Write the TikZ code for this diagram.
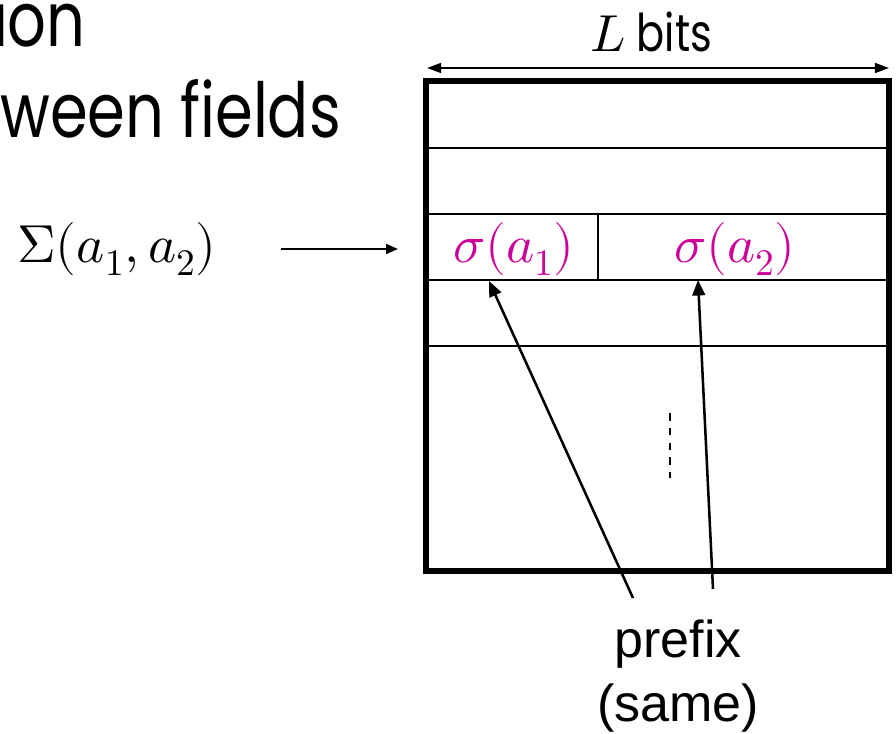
\documentclass[tikz,border=0pt]{standalone}
\usepackage{unicode-math}
\setmainfont{Poppins}[FakeStretch=0.8]
\setmathfont{Latin Modern Math}
\newfontfamily\labelfont{Liberation Sans}
\usetikzlibrary{arrows.meta}

\definecolor{fieldpink}{RGB}{204,0,153}

\tikzset{
  frame/.style={line width=4.8pt},
  rowline/.style={line width=1.4pt},
  pointer/.style={-{Triangle[length=11pt,width=9pt]}, line width=1.8pt},
  bitspan/.style={{Triangle[length=10pt,width=7pt]}-{Triangle[length=10pt,width=7pt]}, line width=1.4pt},
  field/.style={text=fieldpink, font=\fontsize{38}{44}\selectfont},
}

\begin{document}
\begin{tikzpicture}[x=0.025cm,y=-0.025cm]
\useasboundingbox (0,0) rectangle (896,734);

% heading text, cut off at the left edge
\node[anchor=base east, inner sep=0, font=\fontsize{54}{60}\selectfont] (head1) at (86,47) {ion};
\node[anchor=base west, inner sep=0, font=\fontsize{54}{60}\selectfont] (head2) at (0,138) {ween fields};

% the record
\coordinate (nw) at (426,81);
\coordinate (se) at (889,571);
\draw[frame] (nw) rectangle (se);
\foreach \y in {148,214,280,346}
  \draw[rowline] (425,\y) -- (890,\y);
\draw[rowline] (598,214) -- (598,280);
\draw[line width=1.4pt, dash pattern=on 5.5pt off 5pt] (670,413) -- (670,478);

% width
\coordinate (wl) at (427,68);
\coordinate (wr) at (889,68);
\draw[bitspan] (wl) -- (wr);
\node[font=\fontsize{37}{42}\selectfont] (width) at (651,32) {$L$ bits};

% fields
\node[field] (f1) at (514,249) {$\sigma(a_1)$};
\node[field] (f2) at (735,249) {$\sigma(a_2)$};

% the pair
\node[font=\fontsize{38}{44}\selectfont] (pair) at (117,249) {$\Sigma(a_1,a_2)$};
\coordinate (in) at (398,249);
\draw[pointer, line width=1.5pt, -{Triangle[length=8.5pt,width=7pt]}] ([xshift=42]pair.east) -- (in);

% prefix
\node[align=center, font=\labelfont\fontsize{37}{46}\selectfont] (prefix) at (678,676) {prefix\\(same)};
\coordinate (t1) at (489,281);
\coordinate (t2) at (698,280);
\coordinate (s1) at (633,598);
\coordinate (s2) at (713,589);
\draw[pointer] (s1) -- (t1);
\draw[pointer] (s2) -- (t2);
\end{tikzpicture}
\end{document}
